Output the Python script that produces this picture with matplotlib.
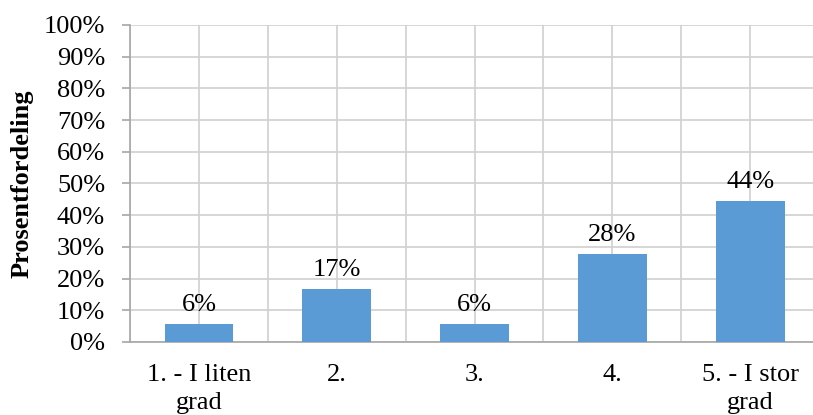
import matplotlib
matplotlib.use('agg')
import matplotlib.pyplot as plt
from matplotlib.ticker import PercentFormatter, MultipleLocator
import numpy as np

# Answer distribution (n = 18)
categories = ['1. - I liten\ngrad', '2.', '3.', '4.', '5. - I stor\ngrad']
shares = [1/18, 3/18, 1/18, 5/18, 8/18]

plt.rcParams['font.family'] = ['Liberation Serif', 'DejaVu Serif']
plt.rcParams['font.size'] = 19

fig = plt.figure(figsize=(8.13, 4.15), dpi=100)
ax = fig.add_axes([0.160, 0.176, 0.8474, 0.7638])

x = np.arange(len(categories))
bars = ax.bar(x, shares, width=0.5, color='#5B9BD5', zorder=3)

# value labels above each bar
for rect, v in zip(bars, shares):
    ax.annotate(f'{v:.0%}', (rect.get_x() + rect.get_width() / 2, rect.get_height()),
                xytext=(0, 6), textcoords='offset points',
                ha='center', va='bottom', fontsize=19, zorder=4)

ax.set_ylim(0, 1)
ax.set_xlim(-0.5, len(categories) - 0.5)
ax.yaxis.set_major_locator(MultipleLocator(0.1))
ax.yaxis.set_major_formatter(PercentFormatter(1.0, decimals=0))

# gridlines both at category centres and at category boundaries
ax.set_xticks(x)
ax.set_xticks(np.arange(-0.5, len(categories)), minor=True)
ax.set_xticklabels(categories, linespacing=1.32)
ax.grid(True, which='major', axis='both', color='#D0D0D0', linewidth=1.2, zorder=0)
ax.grid(True, which='minor', axis='x', color='#D0D0D0', linewidth=1.2, zorder=0)

ax.tick_params(axis='y', length=6, width=1.2, color='#A6A6A6', pad=12)
ax.tick_params(axis='x', which='both', length=0, pad=16)

for side in ['top', 'right']:
    ax.spines[side].set_visible(False)
for side in ['left', 'bottom']:
    ax.spines[side].set_color('#A6A6A6')
    ax.spines[side].set_linewidth(1.2)

ax.set_ylabel('Prosentfordeling', fontweight='bold', fontsize=19, labelpad=7)
ax.set_axisbelow(True)

fig.savefig('out.png', dpi=100)
